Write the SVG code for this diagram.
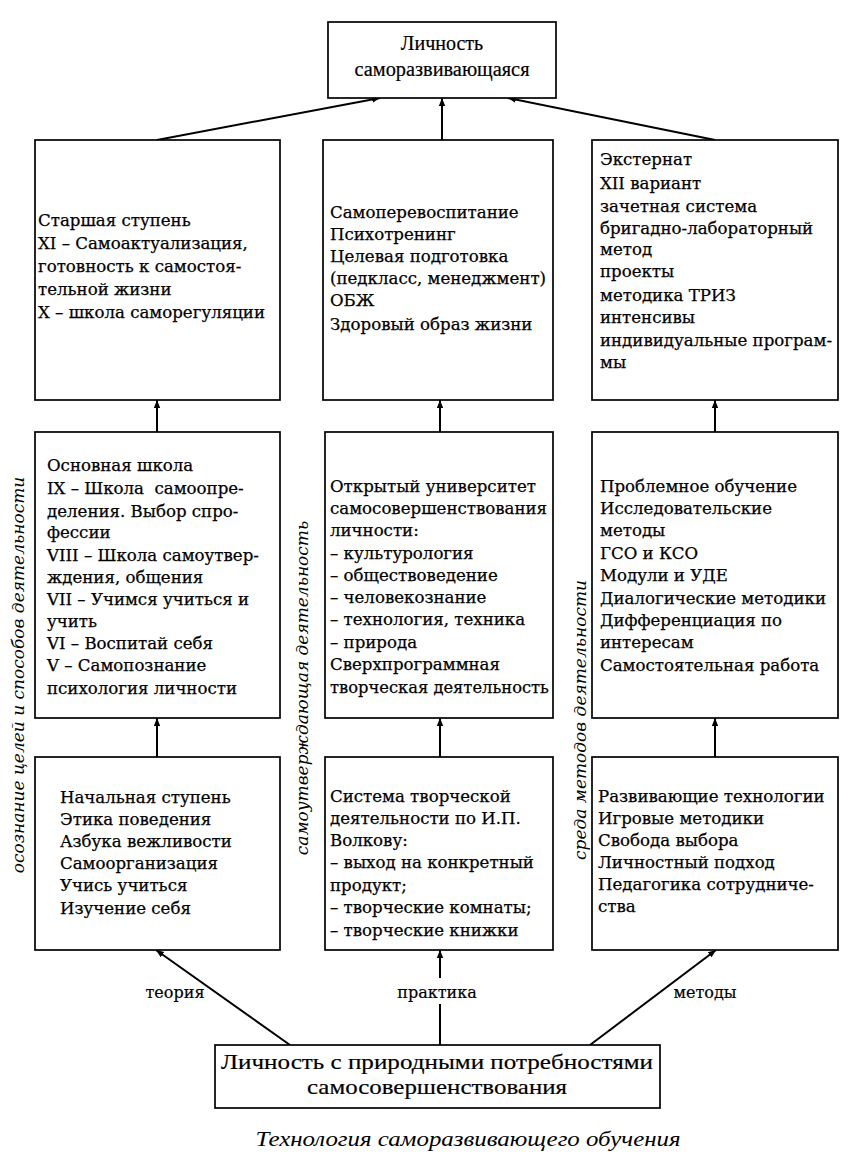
<svg xmlns="http://www.w3.org/2000/svg" width="852" height="1166" viewBox="0 0 852 1166">
<style>
.box{fill:#fff;stroke:#000;stroke-width:1.7}
.t{font-family:"DejaVu Serif","Liberation Serif",serif;font-size:16.6px;fill:#000;stroke:#000;stroke-width:0.25}
.c{font-family:"Liberation Serif",serif;font-size:20px;fill:#000;text-anchor:middle;stroke:#000;stroke-width:0.2}
.v{font-family:"DejaVu Serif","Liberation Serif",serif;font-style:italic;font-size:17px;fill:#000;text-anchor:middle}
.lab{font-family:"DejaVu Serif","Liberation Serif",serif;font-size:16px;fill:#000;text-anchor:middle;stroke:#000;stroke-width:0.2}
.ln{stroke:#000;stroke-width:2;fill:none;marker-end:url(#ah)}
</style>
<defs>
<marker id="ah" viewBox="0 0 10 10" refX="10" refY="5" markerWidth="8" markerHeight="8" markerUnits="userSpaceOnUse" orient="auto">
<path d="M0,1 L10,5 L0,9 z" fill="#000"/>
</marker>
</defs>
<rect width="852" height="1166" fill="#fff"/>

<g id="connectors">
<line class="ln" x1="157" y1="140" x2="380" y2="98"/>
<line class="ln" x1="442" y1="140" x2="442" y2="98"/>
<line class="ln" x1="715" y1="140" x2="508" y2="98"/>
<line class="ln" x1="157" y1="432" x2="157" y2="400"/>
<line class="ln" x1="440" y1="432" x2="440" y2="400"/>
<line class="ln" x1="715" y1="432" x2="715" y2="400"/>
<line class="ln" x1="157" y1="757" x2="157" y2="718"/>
<line class="ln" x1="440" y1="757" x2="440" y2="718"/>
<line class="ln" x1="715" y1="757" x2="715" y2="718"/>
<line class="ln" x1="290" y1="1045" x2="156" y2="950"/>
<line class="ln" x1="440" y1="1045" x2="440" y2="950"/>
<line class="ln" x1="590" y1="1045" x2="716" y2="950"/>
</g>

<g id="labels">
<rect x="420" y="978" width="40" height="26" fill="#fff"/>
<text class="lab" x="175" y="998">теория</text>
<text class="lab" x="437" y="998">практика</text>
<text class="lab" x="705" y="998">методы</text>
<text class="v" transform="translate(24,675) rotate(-90)">осознание целей и способов деятельности</text>
<text class="v" transform="translate(308,688) rotate(-90)">самоутверждающая деятельность</text>
<text class="v" transform="translate(586,720) rotate(-90)">среда методов деятельности</text>
</g>

<g id="top">
<rect class="box" x="328" y="22" width="228" height="76"/>
<text class="c" x="442" y="50">Личность</text>
<text class="c" x="442" y="76" textLength="175" lengthAdjust="spacingAndGlyphs">саморазвивающаяся</text>
</g>

<g id="r1l">
<rect class="box" x="35" y="140" width="245" height="260"/>
<text class="t" x="38" y="226">Старшая ступень</text>
<text class="t" x="38" y="249">XI – Самоактуализация,</text>
<text class="t" x="38" y="272">готовность к самостоя-</text>
<text class="t" x="38" y="295">тельной жизни</text>
<text class="t" x="38" y="318">X – школа саморегуляции</text>
</g>

<g id="r1m">
<rect class="box" x="323" y="140" width="230" height="260"/>
<text class="t" x="330" y="218">Самоперевоспитание</text>
<text class="t" x="330" y="240">Психотренинг</text>
<text class="t" x="330" y="262">Целевая подготовка</text>
<text class="t" x="330" y="284">(педкласс, менеджмент)</text>
<text class="t" x="330" y="306">ОБЖ</text>
<text class="t" x="330" y="330">Здоровый образ жизни</text>
</g>

<g id="r1r">
<rect class="box" x="592" y="140" width="246" height="260"/>
<text class="t" x="600" y="165">Экстернат</text>
<text class="t" x="600" y="189">XII вариант</text>
<text class="t" x="600" y="212">зачетная система</text>
<text class="t" x="600" y="234">бригадно-лабораторный</text>
<text class="t" x="600" y="255">метод</text>
<text class="t" x="600" y="277">проекты</text>
<text class="t" x="600" y="301">методика ТРИЗ</text>
<text class="t" x="600" y="323">интенсивы</text>
<text class="t" x="600" y="346">индивидуальные програм-</text>
<text class="t" x="600" y="368">мы</text>
</g>

<g id="r2l">
<rect class="box" x="35" y="432" width="245" height="286"/>
<text class="t" x="47" y="471">Основная школа</text>
<text class="t" x="47" y="494" xml:space="preserve">IX – Школа  самоопре-</text>
<text class="t" x="47" y="517">деления. Выбор спро-</text>
<text class="t" x="47" y="538">фессии</text>
<text class="t" x="47" y="561">VIII – Школа самоутвер-</text>
<text class="t" x="47" y="583">ждения, общения</text>
<text class="t" x="47" y="605">VII – Учимся учиться и</text>
<text class="t" x="47" y="627">учить</text>
<text class="t" x="47" y="649">VI – Воспитай себя</text>
<text class="t" x="47" y="671">V – Самопознание</text>
<text class="t" x="47" y="694">психология личности</text>
</g>

<g id="r2m">
<rect class="box" x="325" y="432" width="228" height="286"/>
<text class="t" x="330" y="492">Открытый университет</text>
<text class="t" x="330" y="514">самосовершенствования</text>
<text class="t" x="330" y="536">личности:</text>
<text class="t" x="330" y="559">– культурология</text>
<text class="t" x="330" y="581">– обществоведение</text>
<text class="t" x="330" y="603">– человекознание</text>
<text class="t" x="330" y="625">– технология, техника</text>
<text class="t" x="330" y="648">– природа</text>
<text class="t" x="330" y="670">Сверхпрограммная</text>
<text class="t" x="330" y="693" textLength="219" lengthAdjust="spacingAndGlyphs">творческая деятельность</text>
</g>

<g id="r2r">
<rect class="box" x="592" y="432" width="246" height="286"/>
<text class="t" x="600" y="492">Проблемное обучение</text>
<text class="t" x="600" y="514">Исследовательские</text>
<text class="t" x="600" y="536">методы</text>
<text class="t" x="600" y="559">ГСО и КСО</text>
<text class="t" x="600" y="581">Модули и УДЕ</text>
<text class="t" x="600" y="604">Диалогические методики</text>
<text class="t" x="600" y="626">Дифференциация по</text>
<text class="t" x="600" y="648">интересам</text>
<text class="t" x="600" y="671">Самостоятельная работа</text>
</g>

<g id="r3l">
<rect class="box" x="35" y="757" width="245" height="193"/>
<text class="t" x="60" y="803">Начальная ступень</text>
<text class="t" x="60" y="825">Этика поведения</text>
<text class="t" x="60" y="847">Азбука вежливости</text>
<text class="t" x="60" y="869">Самоорганизация</text>
<text class="t" x="60" y="891">Учись учиться</text>
<text class="t" x="60" y="914">Изучение себя</text>
</g>

<g id="r3m">
<rect class="box" x="325" y="757" width="228" height="193"/>
<text class="t" x="330" y="802">Система творческой</text>
<text class="t" x="330" y="824">деятельности по И.П.</text>
<text class="t" x="330" y="846">Волкову:</text>
<text class="t" x="330" y="868">– выход на конкретный</text>
<text class="t" x="330" y="891">продукт;</text>
<text class="t" x="330" y="913">– творческие комнаты;</text>
<text class="t" x="330" y="936">– творческие книжки</text>
</g>

<g id="r3r">
<rect class="box" x="592" y="757" width="246" height="193"/>
<text class="t" x="598" y="802">Развивающие технологии</text>
<text class="t" x="598" y="824">Игровые методики</text>
<text class="t" x="598" y="846">Свобода выбора</text>
<text class="t" x="598" y="868">Личностный подход</text>
<text class="t" x="598" y="890">Педагогика сотрудниче-</text>
<text class="t" x="598" y="912">ства</text>
</g>

<g id="bottom">
<rect class="box" x="215" y="1045" width="445" height="63"/>
<text class="c" x="437" y="1069" style="font-size:22px" textLength="432" lengthAdjust="spacingAndGlyphs">Личность с природными потребностями</text>
<text class="c" x="437" y="1094" style="font-size:22px" textLength="260" lengthAdjust="spacingAndGlyphs">самосовершенствования</text>
</g>

<text x="468" y="1146" style="font-family:'Liberation Serif',serif;font-style:italic;font-size:22px;text-anchor:middle" textLength="425" lengthAdjust="spacingAndGlyphs">Технология саморазвивающего обучения</text>
</svg>
